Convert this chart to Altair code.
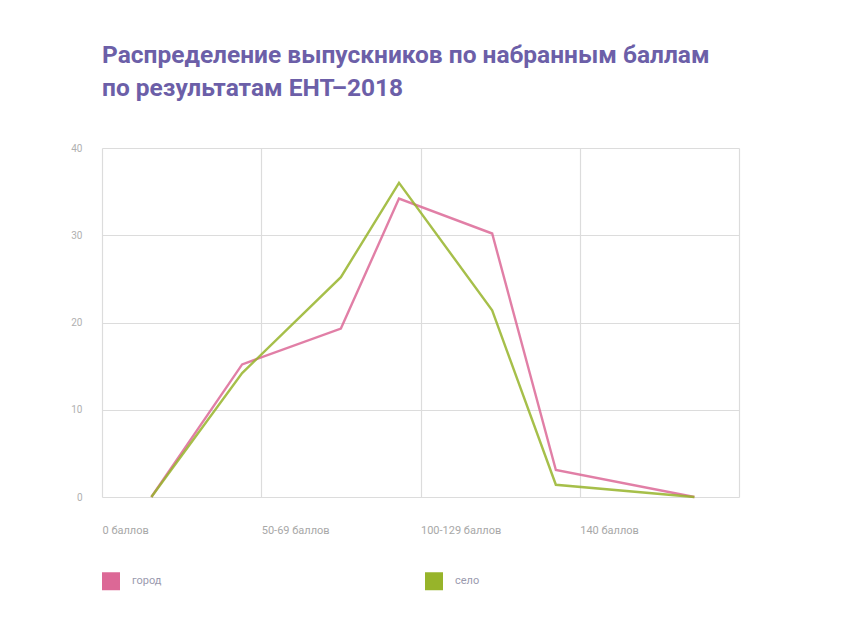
import altair as alt
import pandas as pd

# Data
x_pos = [0.31, 0.88, 1.50, 1.865, 2.45, 2.85, 3.72]
gorod = [0, 15.2, 19.3, 34.2, 30.2, 3.1, 0]
selo = [0, 14.2, 25.2, 36.0, 21.4, 1.4, 0]
series_names = ["город", "село"]
series_colors = ["#dc6896", "#97b42a"]
x_tick_labels = ["0 баллов", "50-69 баллов", "100-129 баллов", "140 баллов", ""]
y_ticks = [0, 10, 20, 30, 40]

rows = []
for i, x in enumerate(x_pos):
    rows.append({"x": x, "value": gorod[i], "series": series_names[0], "order": i})
    rows.append({"x": x, "value": selo[i], "series": series_names[1], "order": i})
df = pd.DataFrame(rows)

label_expr = "[" + ",".join("'" + s + "'" for s in x_tick_labels) + "][datum.value]"

chart = (
    alt.Chart(df)
    .mark_line(strokeWidth=2.4, opacity=0.85)
    .encode(
        x=alt.X(
            "x:Q",
            scale=alt.Scale(domain=[0, 4], nice=False, zero=False),
            axis=alt.Axis(
                values=[0, 1, 2, 3, 4],
                labelExpr=label_expr,
                title=None,
                ticks=False,
                domain=False,
                grid=True,
                gridColor="#dcdcdc",
                gridWidth=1.2,
                labelAlign="left",
                labelBaseline="middle",
                labelPadding=33,
                labelFontSize=11,
                labelColor="#a8a8a8",
                labelFont="Roboto",
            ),
        ),
        y=alt.Y(
            "value:Q",
            scale=alt.Scale(domain=[0, 40], nice=False),
            axis=alt.Axis(
                values=y_ticks,
                title=None,
                ticks=False,
                domain=False,
                grid=True,
                gridColor="#dcdcdc",
                gridWidth=1.2,
                labelPadding=20,
                labelFontSize=10,
                labelColor="#b0b0b0",
                labelFont="Roboto",
            ),
        ),
        color=alt.Color(
            "series:N",
            scale=alt.Scale(domain=series_names, range=series_colors),
            legend=alt.Legend(
                title=None,
                orient="none",
                legendX=0,
                legendY=424,
                direction="horizontal",
                columns=2,
                columnPadding=249,
                symbolType="square",
                symbolSize=81,
                symbolStrokeWidth=9,
                symbolOpacity=1,
                labelFontSize=11,
                labelColor="#9a9aae",
                labelFont="Roboto",
                labelOffset=12,
            ),
        ),
        order="order:Q",
    )
    .properties(
        width=637,
        height=349,
        padding={"left": 102, "top": 148, "right": 102, "bottom": 128},
        autosize=alt.AutoSizeParams(type="none"),
        title=alt.TitleParams(
            text=["Распределение выпускников по набранным баллам", "по результатам ЕНТ–2018"],
            anchor="start",
            frame="group",
            font="Roboto",
            fontSize=24.5,
            fontWeight="bold",
            color="#6c5fa8",
            lineHeight=33,
            offset=42,
        ),
        background="white",
    )
    .configure_view(stroke=None)
)

chart.save("out.html", embed_options={"renderer": "svg", "actions": False})
